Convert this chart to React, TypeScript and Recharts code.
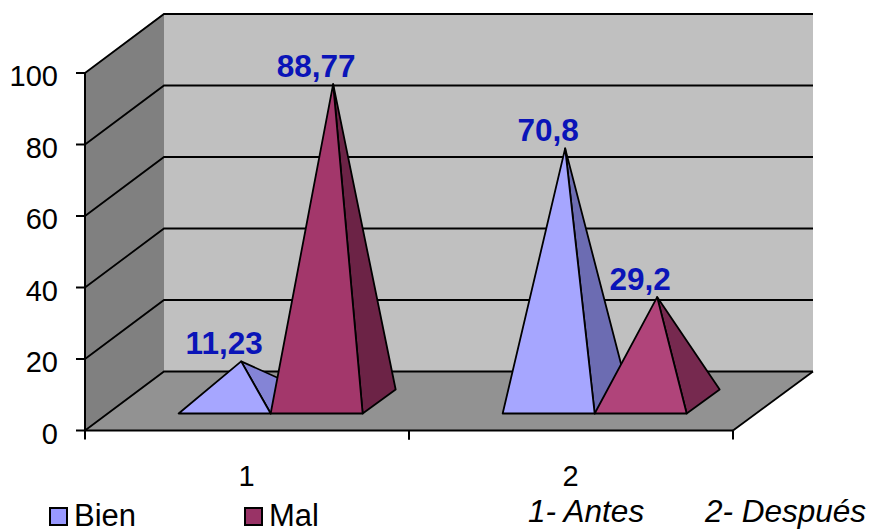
import { Bar, BarChart, CartesianGrid, LabelList, Legend, XAxis, YAxis } from 'recharts';

const categories = ['1', '2'];
const bien = [11.23, 70.8];
const mal = [88.77, 29.2];
const yTicks = [0, 20, 40, 60, 80, 100];
const notes = ['1- Antes', '2- Después'];

const rows = categories.map((name, i) => ({ name, Bien: bien[i], Mal: mal[i] }));

const WIDTH = 876;
const HEIGHT = 531;
const FONT = '"Liberation Sans", Arial, sans-serif';

// front plane of the plot box
const PLOT = { left: 85, top: 73, right: 733, bottom: 430.5 };
// how far the back wall sits from the front plane
const WALL_DX = 79;
const WALL_DY = 59;
// pyramid bases: offset of the front edge, and the depth of the base
const BASE_DX = 24;
const BASE_DY = 17;
const DEPTH_DX = 33;
const DEPTH_DY = 24;

const faces = {
  Bien: { fill: ['#a6a6ff', '#a6a6ff'], side: ['#8484d6', '#6c6cb2'] },
  Mal: { fill: ['#a3376b', '#b0447a'], side: ['#6c2346', '#76294f'] },
};

function pts(list: number[][]) {
  return list.map((p) => p.join(',')).join(' ');
}

// walls and floor sit behind the transparent chart
function Walls() {
  const { left, top, right, bottom } = PLOT;
  return (
    <svg width={WIDTH} height={HEIGHT} style={{ position: 'absolute', left: 0, top: 0 }}>
      <polygon
        points={pts([[left + WALL_DX, top - WALL_DY - 1], [right + WALL_DX + 1, top - WALL_DY - 1], [right + WALL_DX + 1, bottom - WALL_DY], [left + WALL_DX, bottom - WALL_DY]])}
        fill="#c0c0c0"
      />
      <polygon
        points={pts([[left, top], [left + WALL_DX, top - WALL_DY - 1], [left + WALL_DX, bottom - WALL_DY], [left, bottom]])}
        fill="#808080"
      />
      <polygon
        points={pts([[left, bottom], [left + WALL_DX, bottom - WALL_DY], [right + WALL_DX + 1, bottom - WALL_DY], [right, bottom]])}
        fill="#929292"
      />
      <line x1={right + WALL_DX + 1} y1={bottom - WALL_DY} x2={right} y2={bottom} stroke="#000" strokeWidth={1.8} />
    </svg>
  );
}

// grid line running along the side wall and then across the back wall
function GridLine(props: any) {
  const { x1, x2, y1 } = props;
  return (
    <polyline
      key={props.key ?? y1}
      points={pts([[x1, y1], [x1 + WALL_DX, y1 - WALL_DY], [x2 + WALL_DX + 1, y1 - WALL_DY]])}
      fill="none"
      stroke="#000"
      strokeWidth={1.8}
    />
  );
}

function pyramidShape(series: 'Bien' | 'Mal') {
  return function Pyramid(props: any) {
    const { x, y, width, height, index } = props;
    const ground = y + height;
    const frontY = ground - BASE_DY;
    const fl = [x + BASE_DX, frontY];
    const fr = [x + width + BASE_DX, frontY];
    const br = [x + width + BASE_DX + DEPTH_DX, frontY - DEPTH_DY];
    const apex = [x + width / 2 + BASE_DX + DEPTH_DX / 2, frontY - DEPTH_DY / 2 - height];
    return (
      <g stroke="#000" strokeWidth={1.8} strokeLinejoin="round">
        <polygon points={pts([fr, br, apex])} fill={faces[series].side[index]} />
        <polygon points={pts([fl, fr, apex])} fill={faces[series].fill[index]} />
      </g>
    );
  };
}

function ValueLabel(props: any) {
  const { x, y, width, value } = props;
  return (
    <text
      x={x + width / 2 + BASE_DX - 0.5}
      y={y - 36}
      textAnchor="middle"
      fontFamily={FONT}
      fontSize={31.5}
      fontWeight="bold"
      fill="#0a14b8"
    >
      {String(value).replace('.', ',')}
    </text>
  );
}

// category label centred in the band, tick marks on the band edges
function CategoryTick(props: any) {
  const { x, y, payload } = props;
  const band = (PLOT.right - PLOT.left) / categories.length;
  const axisY = PLOT.bottom;
  return (
    <g>
      <line x1={x - band / 2} y1={axisY} x2={x - band / 2} y2={axisY + 9} stroke="#000" strokeWidth={2} />
      <line x1={x + band / 2} y1={axisY} x2={x + band / 2} y2={axisY + 9} stroke="#000" strokeWidth={2} />
      <text x={x - 0.5} y={y + 47} textAnchor="middle" fontFamily={FONT} fontSize={29} fill="#000">
        {payload.value}
      </text>
    </g>
  );
}

const swatchLeft = [49, 244];

function LegendBox(props: any) {
  const items = props.payload ?? [];
  return (
    <div style={{ position: 'relative', width: WIDTH, height: 31, fontFamily: FONT, fontSize: 31, color: '#000' }}>
      {items.map((item: any, i: number) => (
        <div key={item.value}>
          <div
            style={{
              position: 'absolute',
              left: swatchLeft[i],
              top: 7,
              width: 15,
              height: 15,
              background: item.color,
              border: '2px solid #000',
            }}
          />
          <div style={{ position: 'absolute', left: swatchLeft[i] + 25, top: 1, lineHeight: '30px' }}>{item.value}</div>
        </div>
      ))}
    </div>
  );
}

export default function App() {
  return (
    <div style={{ position: 'absolute', left: 0, top: 0, width: WIDTH, height: HEIGHT, background: '#fff' }}>
      <Walls />
      <div style={{ position: 'absolute', left: 0, top: 0 }}>
        <BarChart
          width={WIDTH}
          height={HEIGHT}
          data={rows}
          barGap={0}
          barCategoryGap="21.5%"
          margin={{ top: PLOT.top, left: PLOT.left - 60, right: WIDTH - PLOT.right, bottom: HEIGHT - PLOT.bottom - 40 }}
        >
          <CartesianGrid horizontal={GridLine} vertical={false} stroke="#000" />
          <XAxis
            dataKey="name"
            height={40}
            tick={CategoryTick}
            tickLine={false}
            axisLine={{ stroke: '#000', strokeWidth: 2 }}
          />
          <YAxis
            width={60}
            domain={[0, 100]}
            ticks={yTicks}
            tickSize={9}
            tickMargin={18}
            tick={{ fontFamily: FONT, fontSize: 29, fill: '#000', dy: 3 }}
            tickLine={{ stroke: '#000', strokeWidth: 2 }}
            axisLine={{ stroke: '#000', strokeWidth: 2 }}
          />
          <Bar dataKey="Bien" fill="#9999ff" shape={pyramidShape('Bien')} isAnimationActive={false}>
            <LabelList dataKey="Bien" content={ValueLabel} />
          </Bar>
          <Bar dataKey="Mal" fill="#993366" shape={pyramidShape('Mal')} isAnimationActive={false}>
            <LabelList dataKey="Mal" content={ValueLabel} />
          </Bar>
          <Legend
            layout="horizontal"
            align="center"
            verticalAlign="middle"
            content={LegendBox}
            wrapperStyle={{ left: 0, top: 500, width: WIDTH, height: 31 }}
          />
          <text x={528} y={522} fontFamily={FONT} fontSize={31.5} fontStyle="italic" fill="#000">
            {notes[0]}
          </text>
          <text x={705} y={522} fontFamily={FONT} fontSize={31.5} fontStyle="italic" fill="#000">
            {notes[1]}
          </text>
        </BarChart>
      </div>
    </div>
  );
}
